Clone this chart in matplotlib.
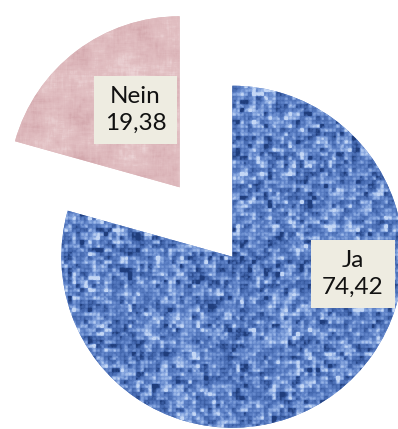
import numpy as np
import matplotlib
matplotlib.use('Agg')
import matplotlib.pyplot as plt
from matplotlib.colors import LinearSegmentedColormap

# Antworten und Anteile
labels = ['Ja', 'Nein']
values = [74.42, 19.38]
value_text = ['74,42', '19,38']

W, H = 398, 429
fig = plt.figure(figsize=(W / 100, H / 100), dpi=100)
ax = fig.add_axes([0, 0, 1, 1])

wedges, _ = ax.pie(values, startangle=90, counterclock=False, radius=171,
                   center=(206, 207), explode=[43.6, 43.6],
                   colors=['#5b7ec4', '#dfbabe'], wedgeprops=dict(linewidth=0))
ax.set_xlim(0, W)
ax.set_ylim(0, H)
ax.set_aspect('equal')
ax.axis('off')

# Stofftexturen für die Füllungen
rng = np.random.default_rng(11)


def blocks(by, bx):
    a = rng.normal(size=(H // by + 1, W // bx + 1))
    return np.repeat(np.repeat(a, by, axis=0), bx, axis=1)[:H, :W]


def blur(a, k):
    # Boxfilter über kumulierte Summen
    p = np.pad(a, k, mode='edge')
    c = np.pad(p.cumsum(0).cumsum(1), ((1, 0), (1, 0)))
    n = 2 * k + 1
    s = c[n:, n:] - c[:-n, n:] - c[n:, :-n] + c[:-n, :-n]
    return s / n ** 2


def norm(a):
    return (a - a.mean()) / a.std()


yy, xx = np.mgrid[0:H, 0:W]
weave = 0.6 * blocks(4, 8) + 0.6 * blocks(8, 4) + 0.6 * blocks(4, 4) + 0.3 * blocks(2, 2)
weave -= 0.9 * ((yy % 4 == 0) | (xx % 4 == 0))
weave = norm(0.6 * blur(weave, 1) + 0.4 * weave)
blue_cmap = LinearSegmentedColormap.from_list(
    'leinen', ['#1f3d7c', '#4266ad', '#5f83c8', '#8cabe2', '#c4d7f5'])

marble = (norm(blur(rng.normal(size=(H, W)), 10))
          + 0.6 * norm(blur(rng.normal(size=(H, W)), 4))
          + 0.3 * norm(blur(rng.normal(size=(H, W)), 1)))
marble = norm(marble)
pink_cmap = LinearSegmentedColormap.from_list(
    'marmor', ['#d3a8ad', '#dcb6ba', '#e2c0c3', '#ebd2d4'])

for wedge, tex, cmap, lim in zip(wedges, [weave, marble], [blue_cmap, pink_cmap], [2.2, 2.8]):
    im = ax.imshow(tex, cmap=cmap, vmin=-lim, vmax=lim, extent=(0, W, 0, H),
                   origin='upper', interpolation='nearest', zorder=2)
    im.set_clip_path(wedge)

# Datenbeschriftungen
label_pos = [(353, 155), (135.5, 319)]
for (x, y), lab, val in zip(label_pos, labels, value_text):
    ax.text(x, y, lab + '\n' + val, ha='center', va='center', linespacing=1.3,
            family=['Lato', 'DejaVu Sans'], size=17.5,
            color='#111111', zorder=3,
            bbox=dict(boxstyle='square,pad=0.45', fc='#EEECE1', ec='none'))

fig.savefig('out.png', dpi=100)
